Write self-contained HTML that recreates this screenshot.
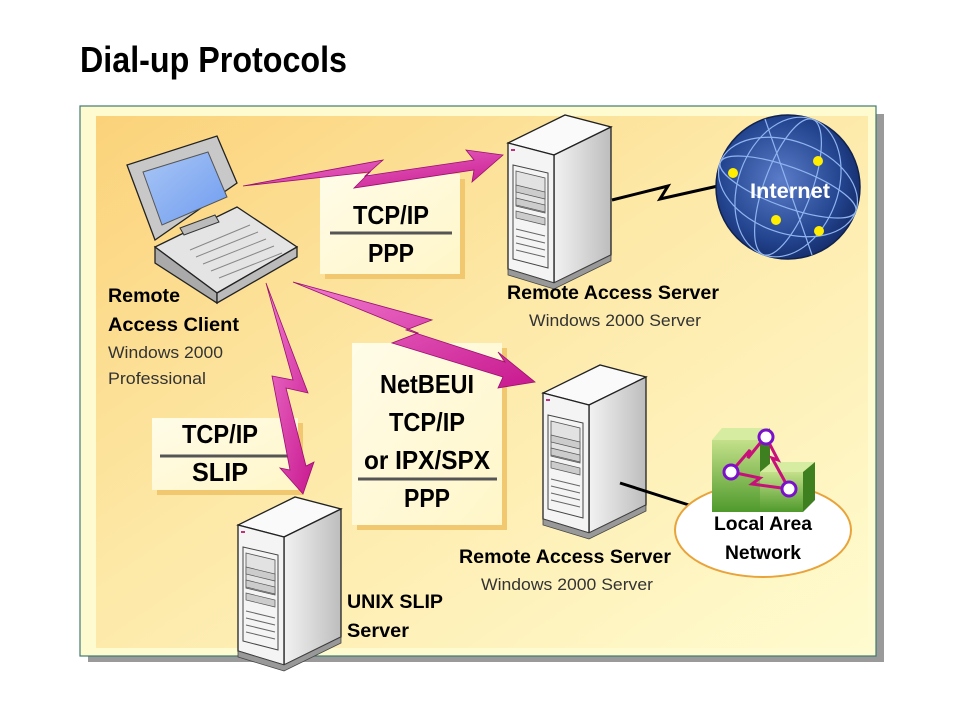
<!DOCTYPE html>
<html><head><meta charset="utf-8"><style>
html,body{margin:0;padding:0;background:#fff;}
svg{display:block;font-family:"Liberation Sans",sans-serif;}
</style></head><body>
<svg width="960" height="720" viewBox="0 0 960 720" xmlns="http://www.w3.org/2000/svg">
<defs>
<linearGradient id="bg" x1="0" y1="0" x2="1" y2="1">
<stop offset="0" stop-color="#fbd27a"/><stop offset="0.45" stop-color="#fde9a8"/><stop offset="1" stop-color="#fffbcf"/>
</linearGradient>
<linearGradient id="lb" x1="0" y1="0" x2="1" y2="1">
<stop offset="0" stop-color="#fffce8"/><stop offset="1" stop-color="#fff6c8"/>
</linearGradient>
<linearGradient id="side" x1="0" y1="0" x2="1" y2="0">
<stop offset="0" stop-color="#f2f2f2"/><stop offset="0.5" stop-color="#d8d8d8"/><stop offset="1" stop-color="#bdbdbd"/>
</linearGradient>
<linearGradient id="mag" x1="0" y1="0" x2="1" y2="1">
<stop offset="0" stop-color="#f07ad0"/><stop offset="1" stop-color="#c8188e"/>
</linearGradient>
<radialGradient id="globe" cx="0.45" cy="0.45" r="0.6">
<stop offset="0" stop-color="#5b7cc8"/><stop offset="0.7" stop-color="#23448f"/><stop offset="1" stop-color="#142a66"/>
</radialGradient>
<linearGradient id="scr" x1="0" y1="0" x2="1" y2="1">
<stop offset="0" stop-color="#a9c6f5"/><stop offset="1" stop-color="#6f9cf0"/>
</linearGradient>
<linearGradient id="grn" x1="0" y1="0" x2="0" y2="1">
<stop offset="0" stop-color="#c4e08a"/><stop offset="1" stop-color="#4f9a2c"/>
</linearGradient>
<g id="srv">
<polygon points="0,0 46,12 103,-16 57,-28" fill="#fafafa" stroke="#222" stroke-width="1.3"/>
<polygon points="46,12 103,-16 103,112 46,140" fill="url(#side)" stroke="#222" stroke-width="1.3"/>
<polygon points="0,0 46,12 46,140 0,126" fill="#f4f4f4" stroke="#222" stroke-width="1.3"/>
<polygon points="0,126 46,140 103,112 103,118 46,146 0,132" fill="#999" stroke="#444" stroke-width="0.8"/>
<rect x="3" y="6" width="4" height="2" fill="#c0307a"/>
<polygon points="5,22 40,30 40,125 5,116" fill="none" stroke="#444" stroke-width="1"/>
<polygon points="8,28 37,35 37,70 8,63" fill="#e2e2e2" stroke="#555" stroke-width="0.8"/>
<polygon points="8,42 37,49 37,56 8,49" fill="#ccc" stroke="#555" stroke-width="0.7"/>
<polygon points="8,55 37,62 37,69 8,62" fill="#ccc" stroke="#555" stroke-width="0.7"/>
<polygon points="8,68 37,75 37,82 8,75" fill="#ccc" stroke="#555" stroke-width="0.7"/>
<line x1="8" y1="86" x2="37" y2="93" stroke="#666"/><line x1="8" y1="93" x2="37" y2="100" stroke="#666"/>
<line x1="8" y1="100" x2="37" y2="107" stroke="#666"/><line x1="8" y1="107" x2="37" y2="114" stroke="#666"/>
</g>
</defs>

<!-- title -->
<text x="80" y="72" font-size="36" font-weight="bold" textLength="267" lengthAdjust="spacingAndGlyphs" fill="#000">Dial-up Protocols</text>

<!-- panel -->
<rect x="88" y="114" width="796" height="548" fill="#9a9a9a"/>
<rect x="80" y="106" width="796" height="550" fill="#fffbd0" stroke="#3f7a70" stroke-width="1.2"/>
<rect x="96" y="116" width="772" height="532" fill="url(#bg)"/>

<!-- label boxes -->
<rect x="325" y="179" width="140" height="100" fill="#f1c870"/>
<rect x="320" y="174" width="140" height="100" fill="url(#lb)"/>
<rect x="357" y="348" width="150" height="182" fill="#f1c870"/>
<rect x="352" y="343" width="150" height="182" fill="url(#lb)"/>
<rect x="157" y="423" width="146" height="72" fill="#f1c870"/>
<rect x="152" y="418" width="146" height="72" fill="url(#lb)"/>

<g font-weight="bold" fill="#000" text-anchor="middle">
<text x="391" y="224" font-size="26" textLength="76" lengthAdjust="spacingAndGlyphs">TCP/IP</text>
<text x="391" y="262" font-size="26" textLength="46" lengthAdjust="spacingAndGlyphs">PPP</text>
<text x="427" y="393" font-size="26" textLength="94" lengthAdjust="spacingAndGlyphs">NetBEUI</text>
<text x="427" y="431" font-size="26" textLength="76" lengthAdjust="spacingAndGlyphs">TCP/IP</text>
<text x="427" y="469" font-size="26" textLength="126" lengthAdjust="spacingAndGlyphs">or IPX/SPX</text>
<text x="427" y="507" font-size="26" textLength="46" lengthAdjust="spacingAndGlyphs">PPP</text>
<text x="220" y="443" font-size="26" textLength="76" lengthAdjust="spacingAndGlyphs">TCP/IP</text>
<text x="220" y="481" font-size="26" textLength="56" lengthAdjust="spacingAndGlyphs">SLIP</text>
</g>
<line x1="330" y1="233" x2="452" y2="233" stroke="#555" stroke-width="3"/>
<line x1="358" y1="479" x2="497" y2="479" stroke="#555" stroke-width="3"/>
<line x1="160" y1="456" x2="292" y2="456" stroke="#555" stroke-width="3"/>

<!-- servers -->
<use href="#srv" x="508" y="143"/>
<use href="#srv" x="543" y="393"/>
<use href="#srv" x="238" y="525"/>

<!-- connectors -->
<polyline points="612,200 668,186 660,199 718,186" fill="none" stroke="#000" stroke-width="3"/>
<line x1="620" y1="483" x2="692" y2="506" stroke="#000" stroke-width="3"/>

<!-- globe -->
<circle cx="788" cy="187" r="72" fill="url(#globe)" stroke="#10224f" stroke-width="1.5"/>
<g fill="none" stroke="#8fb4f0" stroke-width="1.2">
<ellipse cx="788" cy="187" rx="24" ry="72" transform="rotate(20 788 187)"/>
<ellipse cx="788" cy="187" rx="50" ry="72" transform="rotate(20 788 187)"/>
<ellipse cx="788" cy="187" rx="72" ry="20" transform="rotate(20 788 187)"/>
<ellipse cx="788" cy="187" rx="72" ry="46" transform="rotate(20 788 187)"/>
<line x1="765" y1="119" x2="812" y2="255"/>
</g>
<g fill="#ffee00">
<circle cx="733" cy="173" r="5"/><circle cx="818" cy="161" r="5"/>
<circle cx="776" cy="220" r="5"/><circle cx="819" cy="231" r="5"/>
</g>
<text x="790" y="198" font-size="21" font-weight="bold" fill="#fff" text-anchor="middle" textLength="80" lengthAdjust="spacingAndGlyphs">Internet</text>

<!-- LAN -->
<ellipse cx="763" cy="530" rx="88" ry="47" fill="#fff" stroke="#e8a33a" stroke-width="2"/>
<polygon points="712,440 722,428 770,428 760,440" fill="#d6eca0"/>
<rect x="712" y="440" width="48" height="72" fill="url(#grn)"/>
<polygon points="760,440 770,428 770,500 760,512" fill="#3e8020"/>
<polygon points="760,472 772,462 815,462 803,472" fill="#d6eca0"/>
<rect x="760" y="472" width="43" height="40" fill="url(#grn)"/>
<polygon points="803,472 815,462 815,500 803,512" fill="#3e8020"/>
<g stroke="#c8107a" stroke-width="3" fill="none">
<polyline points="731,472 750,450 748,458 765,437"/>
<polyline points="766,437 778,460 772,458 789,489"/>
<polyline points="731,472 760,478 752,484 789,489"/>
</g>
<g stroke="#7a10c8" stroke-width="3" fill="#fff">
<circle cx="766" cy="437" r="7"/><circle cx="731" cy="472" r="7"/><circle cx="789" cy="489" r="7"/>
</g>
<g font-size="19" font-weight="bold" text-anchor="middle" fill="#000">
<text x="763" y="530" textLength="98" lengthAdjust="spacingAndGlyphs">Local Area</text>
<text x="763" y="559" textLength="76" lengthAdjust="spacingAndGlyphs">Network</text>
</g>

<!-- laptop -->
<polygon points="127,165 217,136 237,183 155,240" fill="#c8c8c8" stroke="#222" stroke-width="1.3"/>
<polygon points="143,172 208,152 227,197 162,225" fill="url(#scr)" stroke="#555"/>
<polygon points="155,247 237,207 297,247 217,293" fill="#e4e4e4" stroke="#222" stroke-width="1.3"/>
<polygon points="155,247 217,293 217,303 155,263" fill="#aaa" stroke="#222" stroke-width="1.3"/>
<polygon points="217,293 297,247 297,257 217,303" fill="#bbb" stroke="#222" stroke-width="1.3"/>
<g stroke="#888" stroke-width="1">
<line x1="190" y1="250" x2="250" y2="225"/><line x1="196" y1="257" x2="258" y2="232"/>
<line x1="203" y1="264" x2="266" y2="239"/><line x1="211" y1="271" x2="274" y2="246"/>
<line x1="219" y1="278" x2="282" y2="253"/>
</g>
<polygon points="180,228 215,215 219,222 184,235" fill="#bbb" stroke="#333"/>

<!-- lightning arrows -->
<g fill="url(#mag)" stroke="#9a1070" stroke-width="0.8">
<polygon points="243,186 383,160 365,176 474,160 466,150 503,155 472,182 474,170 354,188 370,172"/>
<polygon points="293,282 432,320 406,330 505,362 498,352 535,382 498,388 503,377 392,343 418,333"/>
<polygon points="266,283 308,393 286,388 306,466 314,462 303,494 280,468 290,470 272,376 293,380"/>
</g>

<!-- text labels -->
<g fill="#000">
<text x="108" y="302" font-size="19" font-weight="bold" textLength="72" lengthAdjust="spacingAndGlyphs">Remote</text>
<text x="108" y="331" font-size="19" font-weight="bold" textLength="131" lengthAdjust="spacingAndGlyphs">Access Client</text>
<text x="108" y="358" font-size="17" fill="#333" textLength="115" lengthAdjust="spacingAndGlyphs">Windows 2000</text>
<text x="108" y="384" font-size="17" fill="#333" textLength="98" lengthAdjust="spacingAndGlyphs">Professional</text>
<text x="613" y="299" font-size="19" font-weight="bold" text-anchor="middle" textLength="212" lengthAdjust="spacingAndGlyphs">Remote Access Server</text>
<text x="615" y="326" font-size="17" fill="#333" text-anchor="middle" textLength="172" lengthAdjust="spacingAndGlyphs">Windows 2000 Server</text>
<text x="565" y="563" font-size="19" font-weight="bold" text-anchor="middle" textLength="212" lengthAdjust="spacingAndGlyphs">Remote Access Server</text>
<text x="567" y="590" font-size="17" fill="#333" text-anchor="middle" textLength="172" lengthAdjust="spacingAndGlyphs">Windows 2000 Server</text>
<text x="347" y="608" font-size="19" font-weight="bold" textLength="96" lengthAdjust="spacingAndGlyphs">UNIX SLIP</text>
<text x="347" y="637" font-size="19" font-weight="bold" textLength="62" lengthAdjust="spacingAndGlyphs">Server</text>
</g>
</svg>
</body></html>
